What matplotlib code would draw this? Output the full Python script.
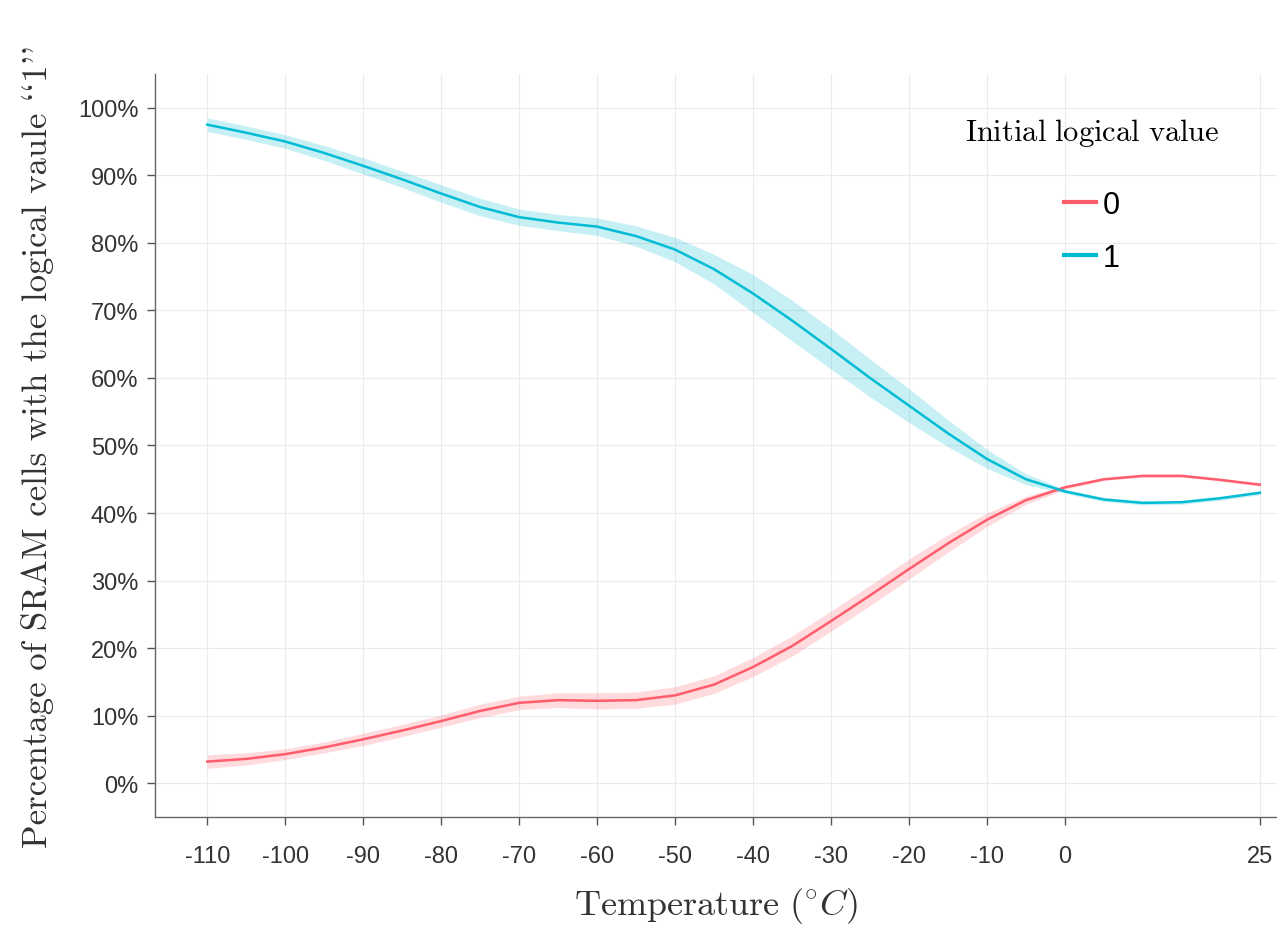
import numpy as np
import matplotlib
matplotlib.use('Agg')
import matplotlib.pyplot as plt
from matplotlib.ticker import FuncFormatter

temps = [-110, -105, -100, -95, -90, -85, -80, -75, -70, -65, -60, -55, -50, -45,
         -40, -35, -30, -25, -20, -15, -10, -5, 0, 5, 10, 15, 20, 25]

# logical value "1" start
ones_mean = [97.5, 96.3, 95.0, 93.3, 91.4, 89.4, 87.3, 85.3, 83.8, 83.0, 82.4, 81.0, 79.0, 76.1,
             72.5, 68.5, 64.3, 60.0, 55.9, 51.8, 48.0, 45.0, 43.2, 42.0, 41.5, 41.6, 42.2, 43.0]
ones_err = [1.0, 1.0, 1.0, 1.1, 1.2, 1.2, 1.3, 1.3, 1.2, 1.2, 1.3, 1.5, 1.8, 2.2,
            2.8, 3.0, 3.0, 2.8, 2.5, 2.0, 1.4, 0.8, 0.3, 0.3, 0.3, 0.3, 0.3, 0.3]

# logical value "0" start
zeros_mean = [3.2, 3.6, 4.3, 5.3, 6.5, 7.8, 9.2, 10.7, 11.9, 12.3, 12.2, 12.3, 13.0, 14.6,
              17.2, 20.3, 24.0, 27.8, 31.7, 35.5, 39.0, 41.9, 43.8, 45.0, 45.5, 45.5, 44.9, 44.2]
zeros_err = [1.0, 0.9, 0.8, 0.8, 0.9, 0.9, 0.9, 1.0, 1.0, 1.1, 1.2, 1.2, 1.3, 1.3,
             1.4, 1.5, 1.5, 1.5, 1.5, 1.3, 1.0, 0.6, 0.3, 0.2, 0.2, 0.2, 0.2, 0.2]

xticks = [-110, -100, -90, -80, -70, -60, -50, -40, -30, -20, -10, 0, 25]
yticks = [0, 10, 20, 30, 40, 50, 60, 70, 80, 90, 100]

red = '#FF5C6C'
cyan = '#00BCD4'

plt.rcParams['font.family'] = ['Liberation Sans', 'DejaVu Sans']
plt.rcParams['mathtext.fontset'] = 'cm'

fig = plt.figure(figsize=(12.77, 9.29), dpi=100)
ax = fig.add_axes([0.1214, 0.1195, 0.8786, 0.7998])

x = np.array(temps)
for mean, err, col, lab in [(zeros_mean, zeros_err, red, '0'), (ones_mean, ones_err, cyan, '1')]:
    m = np.array(mean)
    e = np.array(err)
    ax.fill_between(x, m - e, m + e, color=col, alpha=0.22, linewidth=0)
    ax.plot(x, m, color=col, linewidth=1.8, label=lab)

ax.set_xlim(-116.7, 27.2)
ax.set_ylim(-5, 105)
ax.set_xticks(xticks)
ax.set_yticks(yticks)
ax.xaxis.set_major_formatter(FuncFormatter(lambda v, p: '%d' % v))
ax.yaxis.set_major_formatter(FuncFormatter(lambda v, p: '%d%%' % v))
ax.tick_params(axis='both', labelsize=17, colors='#555555', labelcolor='#333333',
               length=6, width=1, direction='out')
ax.tick_params(axis='x', pad=14)
ax.tick_params(axis='y', pad=6)
ax.grid(True, color='#ebebeb', linewidth=0.8)
ax.set_axisbelow(True)
for s in ['top', 'right']:
    ax.spines[s].set_visible(False)
for s in ['left', 'bottom']:
    ax.spines[s].set_color('#666666')
    ax.spines[s].set_linewidth(1.0)

serif = ['cmr10', 'DejaVu Serif']
ax.set_xlabel(r'$\mathrm{Temperature\ (^{\circ}}C\mathrm{)}$', fontsize=26, color='#333333', labelpad=13)
ax.set_ylabel("Percentage of SRAM cells with the logical vaule ``1''",
              fontsize=25, color='#333333', family=serif, labelpad=17)

leg = ax.legend(title=r'$\mathrm{Initial\ logical\ value}$', loc='upper center',
                bbox_to_anchor=(0.835, 0.98), frameon=False, fontsize=22,
                title_fontsize=22, handlelength=1.05, handletextpad=0.2,
                labelspacing=0.75)
leg._legend_box.sep = 30
for h in leg.legend_handles:
    h.set_linewidth(3)

fig.savefig('out.png', dpi=100)
